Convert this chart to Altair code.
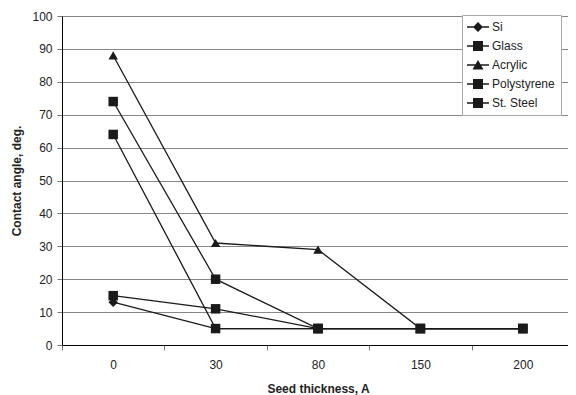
import altair as alt
import pandas as pd

thickness = ["0", "30", "80", "150", "200"]
series = ["Si", "Glass", "Acrylic", "Polystyrene", "St. Steel"]
si = [13, 5, 5, 5, 5]
glass = [15, 11, 5, 5, 5]
acrylic = [88, 31, 29, 5, 5]
polystyrene = [74, 20, 5, 5, 5]
steel = [64, 5, 5, 5, 5]

values = [si, glass, acrylic, polystyrene, steel]
rows = []
for name, vals in zip(series, values):
    for t, v in zip(thickness, vals):
        rows.append({"series": name, "thickness": t, "angle": v})
df = pd.DataFrame(rows)

plot_shapes = ["diamond", "square", "triangle-up", "square", "square"]
bar = "M-2.2,-0.13H2.2V0.13H-2.2Z"
legend_shapes = [
    bar + "M0,-1L1,0L0,1L-1,0Z",
    bar + "M-1,-1H1V1H-1Z",
    bar + "M0,-1L1.1,0.9H-1.1Z",
    bar + "M-1,-1H1V1H-1Z",
    bar + "M-1,-1H1V1H-1Z",
]

font = "Liberation Sans"

x = alt.X(
    "thickness:N",
    sort=thickness,
    scale=alt.Scale(type="band", paddingInner=0, paddingOuter=0),
    axis=alt.Axis(
        title="Seed thickness, A",
        labelAngle=0,
        tickBand="extent",
        grid=False,
        domainColor="black",
        tickColor="#777",
        tickSize=5,
        labelPadding=9,
        titlePadding=13,
    ),
)
y = alt.Y(
    "angle:Q",
    scale=alt.Scale(domain=[0, 100]),
    axis=alt.Axis(
        title="Contact angle, deg.",
        values=list(range(0, 101, 10)),
        grid=True,
        gridColor="#888",
        domainColor="black",
        tickColor="#777",
        tickSize=5,
        labelPadding=5,
        titlePadding=8,
    ),
)

base = alt.Chart(df)

lines = base.mark_line(color="#1a1a1a", strokeWidth=1.3).encode(
    x=x, y=y, detail="series:N"
)

points = base.mark_point(filled=True, color="#1a1a1a", opacity=1, size=90).encode(
    x=x,
    y=y,
    shape=alt.Shape(
        "series:N",
        scale=alt.Scale(domain=series, range=plot_shapes),
        legend=None,
    ),
)

legend_layer = base.mark_point(opacity=0, color="#1a1a1a", filled=True, size=100).encode(
    x=x,
    y=y,
    shape=alt.Shape(
        "series:N",
        scale=alt.Scale(domain=series, range=legend_shapes),
        legend=alt.Legend(
            title=None,
            orient="none",
            legendX=400,
            legendY=-1,
            fillColor="white",
            strokeColor="#aaa",
            padding=6,
            rowPadding=7,
            symbolSize=100,
            symbolOffset=4,
            symbolOpacity=1,
            symbolFillColor="#1a1a1a",
            symbolStrokeWidth=0,
            labelOffset=8,
            labelFontSize=12,
            labelFont=font,
            labelColor="#222",
        ),
    ),
)

chart = (
    alt.layer(lines, points, legend_layer)
    .resolve_scale(shape="independent")
    .properties(
        width=512,
        height=329,
        autosize=alt.AutoSizeParams(type="none"),
        padding={"left": 54, "top": 8, "right": -6, "bottom": 50},
    )
    .configure_view(stroke=None)
    .configure_axis(
        labelFont=font,
        titleFont=font,
        labelFontSize=12,
        titleFontSize=12,
        labelColor="#222",
        titleColor="#222",
        titleFontWeight="bold",
    )
)

chart.save("out.html", embed_options={"renderer": "svg", "actions": False})
